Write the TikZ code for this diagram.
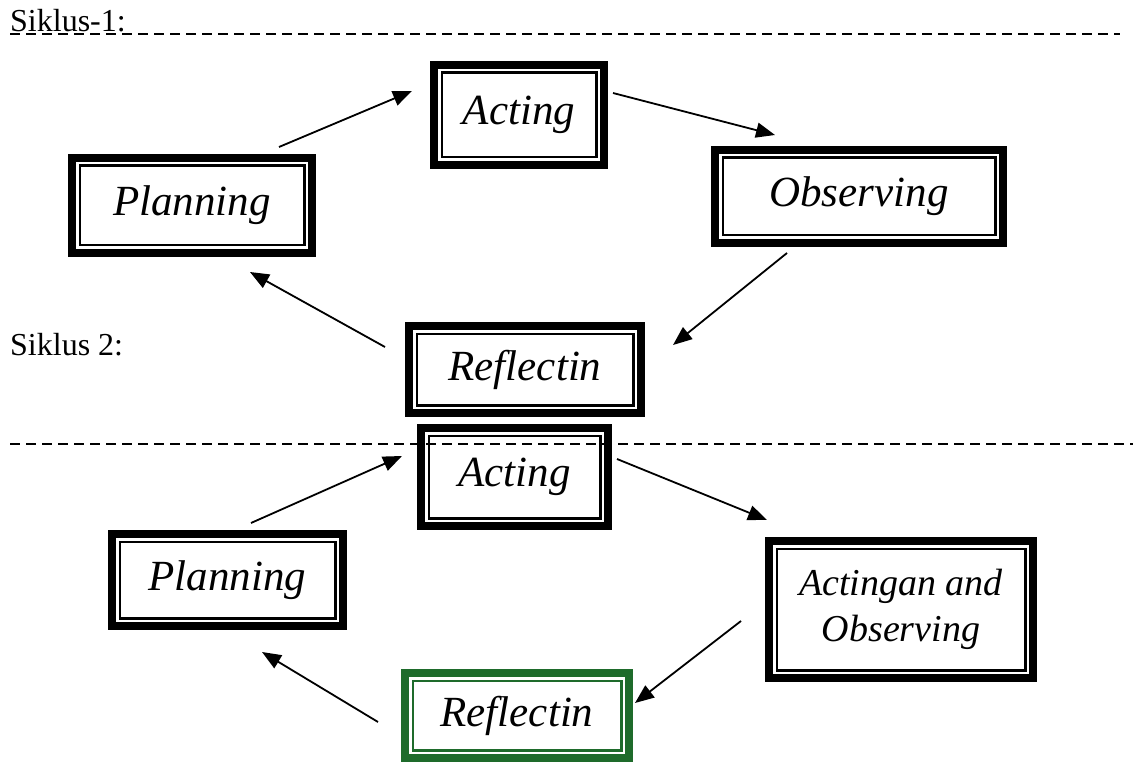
\documentclass[tikz,border=0pt]{standalone}
\usepackage{fontspec}
\setmainfont{Liberation Serif}
\usepackage{tikz}
\usetikzlibrary{positioning, arrows.meta}
\definecolor{refgreen}{HTML}{1E6B2B}

\begin{document}
\begin{tikzpicture}[
  x=1pt, y=-1pt,
  cyclebox/.style={draw=#1, line width=8pt, inner sep=0pt, align=center,
    font=\fontsize{43}{50}\selectfont\itshape,
    path picture={\draw[#1, line width=2.5pt]
      ([shift={(7.75pt,7.75pt)}]path picture bounding box.south west) rectangle
      ([shift={(-7.75pt,-7.75pt)}]path picture bounding box.north east);}},
  cyclebox/.default=black,
  flow/.style={-{Triangle[length=19pt,width=15pt]}, line width=1.8pt},
  cut/.style={dash pattern=on 10pt off 6pt, line width=1.3pt},
  label/.style={font=\fontsize{32}{36}\selectfont, anchor=base west, inner sep=0pt},
]
\useasboundingbox (0,0) rectangle (1133,762);

% Siklus 1
\node[label] (sik1) at (10,32) {Siklus-1:};
\draw[cut] (10,34) -- (1120,34);

\node[cyclebox, minimum width=240pt, minimum height=95pt] (plan1) at (192,205.5) {Planning};
\node[cyclebox, minimum width=170pt, minimum height=100pt] (act1) at (519,115) {Acting};
\node[cyclebox, minimum width=288pt, minimum height=93pt] (obs1) at (859,196.5) {Observing};
\node[cyclebox, minimum width=232pt, minimum height=87pt] (ref1) at (525,369.5) {Reflectin};

\draw[flow] ([shift={(-37,-7)}]plan1.north east) -- ([shift={(-18,-24)}]act1.west);
\draw[flow] ([shift={(5,-22)}]act1.east) -- ([shift={(64,-11)}]obs1.north west);
\draw[flow] ([shift={(76,6)}]obs1.south west) -- ([shift={(28,-24.5)}]ref1.east);
\draw[flow] ([shift={(-20,-22.5)}]ref1.west) -- ([shift={(-66,15)}]plan1.south east);

% Siklus 2
\node[label] (sik2) at (10,355) {Siklus 2:};
\draw[cut] (10,444) -- (1133,444);

\node[cyclebox, minimum width=231pt, minimum height=92pt] (plan2) at (227.5,580) {Planning};
\node[cyclebox, minimum width=187pt, minimum height=98pt] (act2) at (514.5,477) {Acting};
\node[cyclebox, minimum width=264pt, minimum height=137pt,
  font=\fontsize{38}{46}\selectfont\itshape] (actobs) at (901,609.5) {Actingan and\\Observing};
\node[cyclebox=refgreen, minimum width=224pt, minimum height=85pt] (ref2) at (517,715.5) {Reflectin};

\draw[flow] ([shift={(23.5,-7)}]plan2.north) -- ([shift={(-15,-21)}]act2.west);
\draw[flow] ([shift={(5,-18)}]act2.east) -- ([shift={(2,-17)}]actobs.north west);
\draw[flow] ([shift={(-24,11.5)}]actobs.west) -- ([shift={(2,-12.5)}]ref2.east);
\draw[flow] ([shift={(-23,6.5)}]ref2.west) -- ([shift={(34.5,22)}]plan2.south);

\end{tikzpicture}
\end{document}
